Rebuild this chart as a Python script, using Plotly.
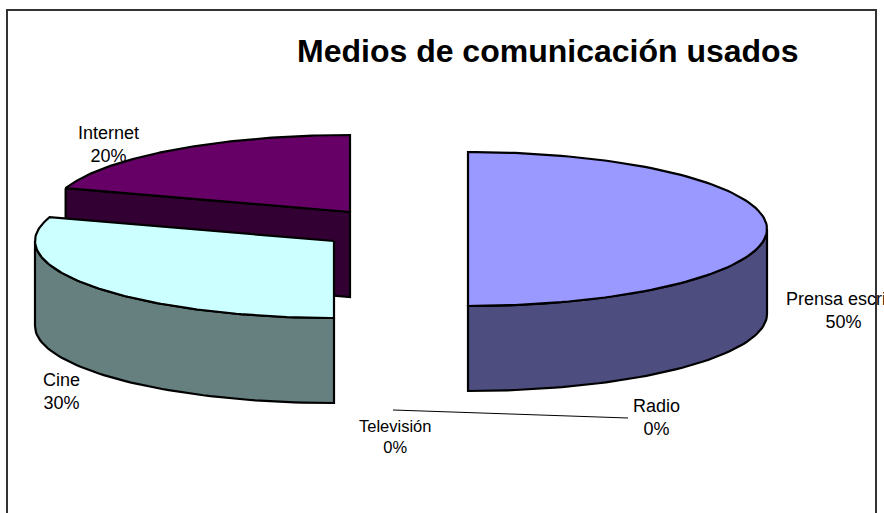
import numpy as np
import plotly.graph_objects as go

categories = ["Prensa escrita", "Radio", "Televisión", "Cine", "Internet"]
values = [50, 0, 0, 30, 20]
top_colors = ["#9999FF", "#FFFFFF", "#FFFFFF", "#CCFFFF", "#660066"]
side_colors = ["#4D4D80", "#808080", "#808080", "#668080", "#330033"]
# exploded slice centres, in pixels of the chart area
centers = [(468, 229), (468, 229), (468, 229), (334, 241), (350, 212)]
label_pos = [(844, 310), (656, 417), (395, 436), (61, 391), (108, 144)]
label_size = [18, 18, 16.5, 18, 18]

RX, RY, DEPTH = 299, 77, 85
W, H = 884, 513
LINE = dict(color="#000000", width=2.2)


def pt(c, a, dz=0.0):
    r = np.radians(a)
    return c[0] + RX * np.sin(r), c[1] - RY * np.cos(r) + dz


fig = go.Figure()


def poly(xs, ys, color):
    fig.add_trace(go.Scatter(x=xs, y=ys, mode="lines", fill="toself", fillcolor=color,
                             line=LINE, hoverinfo="skip", showlegend=False))


total = sum(values)
cum = np.cumsum([0] + values) / total * 360
order = [4, 3, 0]  # back to front
for i in order:
    a0, a1 = cum[i], cum[i + 1]
    c = centers[i]
    # cut face visible at the end of the slice when it looks toward the viewer
    if a0 > 270:
        x0, y0 = pt(c, a0)
        poly([x0, c[0], c[0], x0, x0],
             [y0, c[1], c[1] + DEPTH, y0 + DEPTH, y0], side_colors[i])
    # outer wall
    lo, hi = max(a0, 90), min(a1, 270)
    if lo < hi:
        aa = np.linspace(lo, hi, 60)
        xt, yt = pt(c, aa)
        xb, yb = pt(c, aa[::-1], DEPTH)
        poly(list(xt) + list(xb) + [xt[0]], list(yt) + list(yb) + [yt[0]], side_colors[i])
    # top face
    aa = np.linspace(a0, a1, 120)
    xt, yt = pt(c, aa)
    poly([c[0]] + list(xt) + [c[0]], [c[1]] + list(yt) + [c[1]], top_colors[i])

# leader line joining the two zero-value labels
fig.add_trace(go.Scatter(x=[393, 628], y=[410, 418], mode="lines",
                         line=dict(color="#000000", width=1),
                         hoverinfo="skip", showlegend=False))

annotations = [dict(x=547, y=51, text="<b>Medios de comunicación usados</b>", showarrow=False,
                    font=dict(family="Liberation Sans", size=32, color="#000000"),
                    xanchor="center", yanchor="middle")]
for name, v, p, s in zip(categories, values, label_pos, label_size):
    annotations.append(dict(x=p[0], y=p[1], text=f"{name}<br>{round(v / total * 100)}%",
                            showarrow=False, align="center", xanchor="center", yanchor="middle",
                            font=dict(family="Liberation Sans", size=s, color="#000000")))

fig.update_layout(
    width=W, height=H, margin=dict(l=0, r=0, t=0, b=0), autosize=False,
    paper_bgcolor="#FFFFFF", plot_bgcolor="#FFFFFF", showlegend=False,
    xaxis=dict(range=[0, W], visible=False, fixedrange=True),
    yaxis=dict(range=[H, 0], visible=False, fixedrange=True),
    annotations=annotations,
    shapes=[dict(type="path", xref="x", yref="y",
                 path="M 7 520 L 7 10 L 876 10 L 876 520",
                 line=dict(color="#333333", width=2), layer="below")],
)
fig.write_html("out.html", config={"displayModeBar": False},
               post_script="document.body.style.margin='0';document.body.style.overflow='hidden';")
